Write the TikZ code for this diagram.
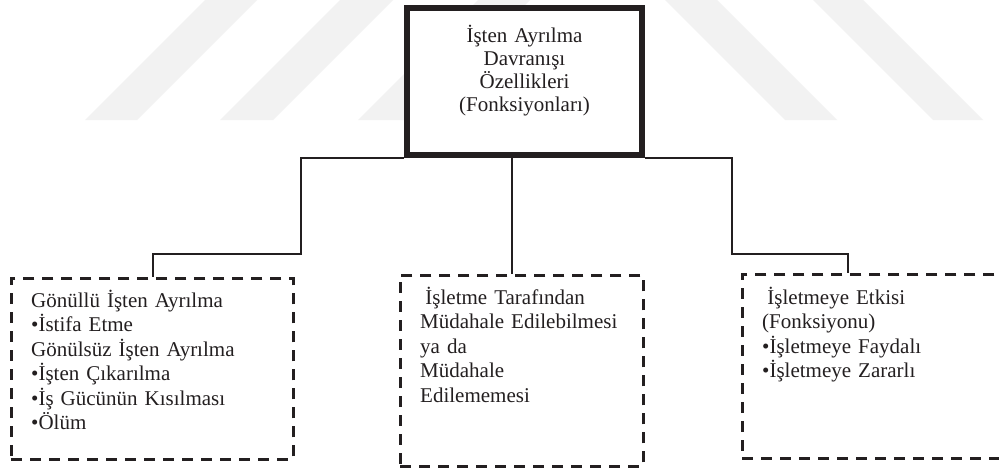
\documentclass[tikz,border=0pt]{standalone}
\usepackage{fontspec}
\setmainfont{Liberation Serif}
\definecolor{inkc}{HTML}{231F20}
\definecolor{wmgray}{HTML}{F2F2F2}
\begin{document}
\begin{tikzpicture}[x=1pt,y=-1pt,
  topbox/.style={draw=inkc, line width=6pt, fill=white, minimum width=235pt,
    minimum height=147pt, inner sep=0pt},
  dashbox/.style={draw=inkc, line width=2.6pt, dash pattern=on 11pt off 8pt,
    inner sep=0pt, anchor=north west},
  conn/.style={draw=inkc, line width=1.8pt},
  txt/.style={inner sep=0pt, text=inkc, font=\fontsize{21}{24.5}\selectfont,
    align=left, anchor=base west},
  toptxt/.style={inner sep=0pt, text=inkc, font=\fontsize{21}{23}\selectfont,
    align=center, anchor=base, text width=220pt},
  band/.style={fill=wmgray, draw=none}
]
\clip (0,0) rectangle (999,467);
\fill[white] (0,0) rectangle (999,467);

% faint background bands
\path[band] (85,120) -- (137,120) -- (257,0) -- (205,0) -- cycle;
\path[band] (220,120) -- (273,120) -- (393,0) -- (340,0) -- cycle;
\path[band] (358,120) -- (410,120) -- (530,0) -- (478,0) -- cycle;
\path[band] (665,0) -- (717,0) -- (837,120) -- (785,120) -- cycle;
\path[band] (813,0) -- (863,0) -- (983,120) -- (933,120) -- cycle;

% main box
\node[topbox] (top) at (524.5,81.5) {};
\node[toptxt] (toplbl) at (524.5,42)
  {İşten Ayrılma\\Davranışı\\Özellikleri\\(Fonksiyonları)};

% lower boxes
\node[dashbox, minimum width=282pt, minimum height=181pt] (left) at (10,277) {};
\node[dashbox, minimum width=243pt, minimum height=191pt] (mid) at (399,274) {};
\node[dashbox, minimum width=300pt, minimum height=184pt] (right) at (741,273) {};

\node[txt, text width=255pt] (lefttxt) at (31,307)
  {Gönüllü İşten Ayrılma\\•İstifa Etme\\Gönülsüz İşten Ayrılma\\•İşten Çıkarılma\\•İş Gücünün Kısılması\\•Ölüm};
\node[txt, text width=215pt] (midtxt) at (420,304)
  {\hspace*{0.25em}İşletme Tarafından\\Müdahale Edilebilmesi\\ya da\\Müdahale\\Edilememesi};
\node[txt, text width=220pt] (righttxt) at (762,304)
  {\hspace*{0.25em}İşletmeye Etkisi\\(Fonksiyonu)\\•İşletmeye Faydalı\\•İşletmeye Zararlı};

% connectors
\coordinate (lbend) at (301,254);
\coordinate (lfoot) at (153,0);
\coordinate (mfoot) at (512,0);
\coordinate (rbend) at (732,254);
\coordinate (rfoot) at (848,0);
\draw[conn] (top.south west) -| (lbend) -| (left.north -| lfoot);
\draw[conn] (top.south -| mfoot) -- (mid.north -| mfoot);
\draw[conn] (top.south east) -| (rbend) -| (right.north -| rfoot);
\end{tikzpicture}
\end{document}
